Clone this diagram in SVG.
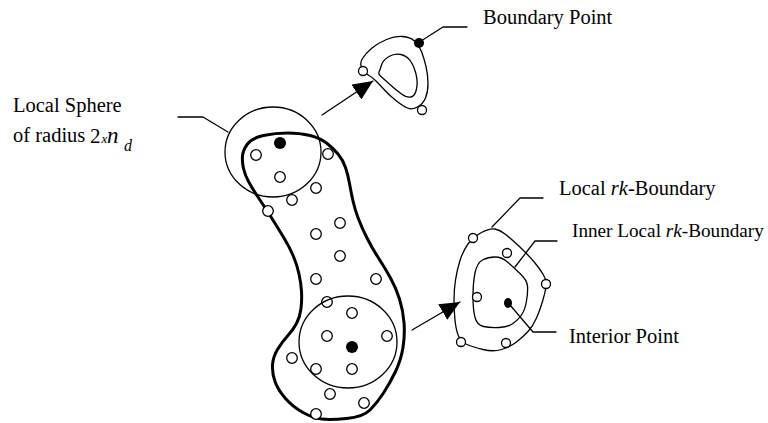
<svg xmlns="http://www.w3.org/2000/svg" width="768" height="423" viewBox="0 0 768 423">
<defs>
<style>
.thin{fill:none;stroke:#000;stroke-width:1.3;stroke-linejoin:round;stroke-linecap:round}
.thick{fill:none;stroke:#000;stroke-width:3;stroke-linejoin:round}
.pt{fill:#fff;stroke:#000;stroke-width:1.3}
.dot{fill:#000;stroke:none}
.lbl{font-family:"Liberation Serif","Times New Roman",serif;font-size:20.5px;fill:#000}
.it{font-style:italic}
</style>
<marker id="ah" viewBox="0 0 20 18" refX="20" refY="9" markerWidth="20" markerHeight="18" markerUnits="userSpaceOnUse" orient="auto">
<path d="M0,0 L20,9 L0,18 Z" fill="#000"/>
</marker>
</defs>
<rect width="768" height="423" fill="#fff"/>

<g id="cluster">
<path class="thick" d="M 247.5,144 Q 252,138 263.5,135.5 Q 275,133 287.5,133 Q 300,133 310,135.5 Q 320,138 326.5,143 Q 333,148 338,154 Q 343,160 345.5,167.5 Q 348,175 349.5,183.5 Q 351,192 353,201 Q 355,210 358.5,219 Q 362,228 367,238 Q 372,248 378.5,258 Q 385,268 390.5,278 Q 396,288 399.5,299 Q 403,310 404,322.5 Q 405,335 403,347.5 Q 401,360 395.5,371.5 Q 390,383 383.5,393 Q 377,403 370,410 Q 363,417 346.5,418.5 Q 330,420 321.5,419 Q 313,418 303,412.5 Q 293,407 285.5,398.5 Q 278,390 275,381.5 Q 272,373 272.5,365 Q 273,357 277.5,349.5 Q 282,342 287.5,336 Q 293,330 296.5,323.5 Q 300,317 301,308.5 Q 302,300 301.5,291.5 Q 301,283 299,274 Q 297,265 293.5,256.5 Q 290,248 284,238 Q 278,228 271,217 Q 264,206 258,197 Q 252,188 248.5,181.5 Q 245,175 243.5,168.5 Q 242,162 242.5,156 Q 243,150 247.5,144 Z"/>
<g id="points">
<circle class="pt" cx="256" cy="155" r="5.3"/>
<circle class="pt" cx="280" cy="177" r="5.3"/>
<circle class="pt" cx="328" cy="154" r="5.3"/>
<circle class="pt" cx="316" cy="188" r="5.3"/>
<circle class="pt" cx="292" cy="200" r="5.3"/>
<circle class="pt" cx="268" cy="211" r="5.3"/>
<circle class="pt" cx="340" cy="223" r="5.3"/>
<circle class="pt" cx="316" cy="234" r="5.3"/>
<circle class="pt" cx="340" cy="256" r="5.3"/>
<circle class="pt" cx="316" cy="279" r="5.3"/>
<circle class="pt" cx="376" cy="279" r="5.3"/>
<circle class="pt" cx="327" cy="302" r="5.3"/>
<circle class="pt" cx="352" cy="313" r="5.3"/>
<circle class="pt" cx="327" cy="336" r="5.3"/>
<circle class="pt" cx="387" cy="336" r="5.3"/>
<circle class="pt" cx="292" cy="358" r="5.3"/>
<circle class="pt" cx="316" cy="369" r="5.3"/>
<circle class="pt" cx="352" cy="369" r="5.3"/>
<circle class="pt" cx="330" cy="394" r="5.3"/>
<circle class="pt" cx="364" cy="403" r="5.3"/>
<circle class="pt" cx="316" cy="414" r="5.3"/>
<circle class="dot" cx="280" cy="143" r="6"/>
<circle class="dot" cx="352" cy="347" r="6"/>
</g>
</g>

<g id="upper-sphere">
<ellipse class="thin" cx="273" cy="152" rx="48" ry="45"/>
</g>

<g id="lower-sphere">
<ellipse class="thin" cx="348" cy="342" rx="49" ry="46"/>
</g>

<g id="boundary-shape">
<path class="thin" d="M 362.5,58.5 Q 366,53 372,48 Q 378,43 386.5,39.5 Q 395,36 402.5,36.5 Q 410,37 414.5,41 Q 419,45 421.5,51.5 Q 424,58 426,66.5 Q 428,75 428,83.5 Q 428,92 425.5,98 Q 423,104 417.5,107 Q 412,110 407.5,108 Q 403,106 396.5,101 Q 390,96 385,90.5 Q 380,85 376,81 Q 372,77 369,75.5 Q 366,74 362.5,69 Q 359,64 362.5,58.5 Z"/>
<path class="thin" d="M 381.5,65 Q 383,60 389,56.5 Q 395,53 401,54.5 Q 407,56 410.5,61 Q 414,66 416,74 Q 418,82 416.5,89 Q 415,96 411,97 Q 407,98 401.5,94 Q 396,90 390.5,85 Q 385,80 381.5,77 Q 378,74 379,72 Q 380,70 381.5,65 Z"/>
<circle class="pt" cx="363" cy="71" r="4.5"/>
<circle class="pt" cx="422" cy="110" r="4.5"/>
<circle class="dot" cx="419" cy="43" r="5"/>
</g>

<g id="rk-shape">
<path class="thin" d="M 495,229 Q 500,230 505,234 Q 510,238 515,242.5 Q 520,247 525,252 Q 530,257 535,263 Q 540,269 543.5,275 Q 547,281 546,287 Q 545,293 542.5,301.5 Q 540,310 536.5,318 Q 533,326 528,331.5 Q 523,337 516.5,342 Q 510,347 501.5,349.5 Q 493,352 483,349.5 Q 473,347 467,344.5 Q 461,342 458.5,336 Q 456,330 455,320 Q 454,310 454,300 Q 454,290 455.5,280 Q 457,270 460,260.5 Q 463,251 468,244 Q 473,237 481.5,232.5 Q 490,228 495,229 Z"/>
<path class="thin" d="M 482.5,260 Q 488,257 495,257 Q 502,257 507.5,262 Q 513,267 520,273.5 Q 527,280 527.5,286 Q 528,292 526.5,301 Q 525,310 521.5,315 Q 518,320 513,323.5 Q 508,327 499,327.5 Q 490,328 483.5,326.5 Q 477,325 475,317.5 Q 473,310 473,296.5 Q 473,283 475,273 Q 477,263 482.5,260 Z"/>
<circle class="pt" cx="473" cy="238" r="4.5"/>
<circle class="pt" cx="507" cy="253" r="4.5"/>
<circle class="pt" cx="546" cy="284" r="4.5"/>
<circle class="pt" cx="477" cy="297" r="4.5"/>
<circle class="pt" cx="461" cy="342" r="4.5"/>
<circle class="pt" cx="506" cy="343" r="4.5"/>
<ellipse class="dot" cx="508" cy="303" rx="4" ry="5"/>
</g>

<g id="connectors">
<line class="thin" x1="322" y1="115" x2="373" y2="81" marker-end="url(#ah)"/>
<line class="thin" x1="412" y1="330" x2="460" y2="302" marker-end="url(#ah)"/>
<polyline class="thin" points="178,117 203,117 228,132"/>
<polyline class="thin" points="421,41 443,27 467,27"/>
<polyline class="thin" points="492,227 520,198 543,198"/>
<polyline class="thin" points="515,267 535,241 557,241"/>
<polyline class="thin" points="510,305 533,332 556,332"/>
</g>

<g id="label-sphere">
<text class="lbl" x="13" y="112">Local Sphere</text>
<text class="lbl" x="13" y="142">of radius</text>
<text class="lbl" x="90" y="143" style="font-size:21px">2</text>
<text class="lbl it" x="101.5" y="143" style="font-size:13px">x</text>
<text class="lbl it" x="107" y="143" style="font-size:23px">n</text>
<text class="lbl it" x="124" y="151" style="font-size:16px">d</text>
</g>
<g id="label-boundary-point">
<text class="lbl" x="483" y="24">Boundary Point</text>
</g>
<g id="label-local-rk">
<text class="lbl" x="559" y="195">Local <tspan class="it">rk</tspan>-Boundary</text>
</g>
<g id="label-inner-rk">
<text class="lbl" x="572" y="237" style="font-size:19.2px">Inner Local <tspan class="it">rk</tspan>-Boundary</text>
</g>
<g id="label-interior">
<text class="lbl" x="569" y="343">Interior Point</text>
</g>
</svg>
